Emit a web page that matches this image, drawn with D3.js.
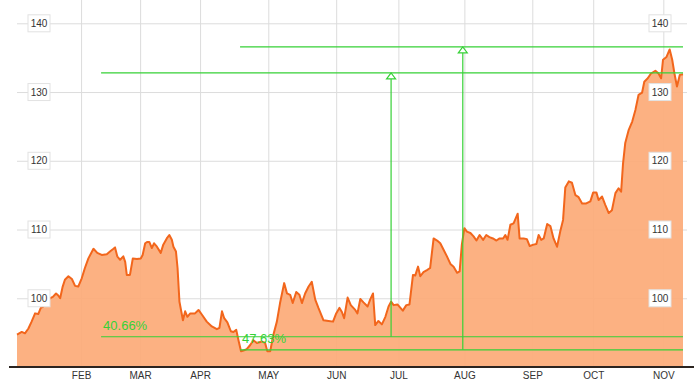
<!DOCTYPE html>
<html>
<head>
<meta charset="utf-8">
<script src="https://cdn.jsdelivr.net/npm/d3@7"></script>
<style>
  body { margin: 0; background: #fff; }
  svg { display: block; font-family: Arial, "Liberation Sans", sans-serif; }
  .grid line { stroke: #dcdcdc; stroke-width: 1; }
  .grid path { display: none; }
  .x.axis path { display: none; }
  .x.axis text { font-size: 10px; fill: #333; }
  .ylab rect { fill: #fff; stroke: #e2e2e2; }
  .ylab text { font-size: 10px; fill: #333; }
</style>
</head>
<body>
<div id="chart"></div>
<script>
// trading sessions (x) and closing prices
var sessions = [0,1.5,2.5,3.6,4.6,5.7,6.7,7.5,8.3,9.4,10.4,11.3,12.3,13.0,13.6,14.4,15.1,16.2,17.3,18.3,19.3,20.4,21.4,22.5,24.1,25.3,26.7,28.3,29.3,30.4,30.9,31.6,32.5,33.5,34.1,34.6,35.6,36.5,37.8,39.0,
  39.6,40.4,41.1,41.7,42.5,43.2,44.1,45.3,46.1,47.2,48.0,48.8,49.3,50.1,50.6,51.2,52.3,53.0,53.7,54.6,56.1,57.2,58.3,59.8,61.4,63.0,63.8,64.6,65.3,66.3,67.4,68.2,69.1,69.8,70.6,71.4,72.4,73.5,74.5,75.6,77.2,78.2,78.9,79.8,80.8,81.9,82.9,84.2,85.1,86.1,
  86.9,88.0,89.0,89.8,90.8,91.9,92.9,94.0,95.0,96.6,98.2,99.6,100.6,101.6,102.4,103.1,104.2,105.2,106.6,107.3,108.2,109.2,110.5,111.3,112.2,112.9,113.9,115.0,116.1,117.1,117.9,118.7,119.9,121.6,122.7,123.7,124.8,125.5,126.4,127.1,128.1,129.2,130.2,
  131.3,132.4,133.4,134.4,135.5,136.6,137.6,138.7,139.5,140.2,141.0,141.8,142.9,143.9,144.8,145.8,146.9,147.9,148.9,150.0,151.1,152.1,153.2,153.9,154.6,155.5,156.5,157.8,158.4,159.7,160.7,161.6,162.8,163.7,164.4,165.2,166.0,167.1,168.1,169.1,
  170.2,171.2,172.1,172.8,173.9,174.9,176.0,177.0,178.1,179.4,180.7,181.6,182.6,183.3,184.4,185.4,186.5,187.5,188.6,189.6,190.4,191.0,191.7,192.8,193.9,194.9,195.9,197.0,197.7,198.8,199.8,201.2,202.2,203.0,203.6,204.7,205.7,206.5,207.2,208.0,208.9,209.9];

var prices = [94.7,95.1,94.9,95.6,96.6,97.8,97.7,98.6,98.8,99.5,100.0,100.2,100.7,100.4,100.0,101.7,102.7,103.2,102.8,101.8,101.7,102.9,104.4,105.8,107.2,106.6,106.3,106.4,106.8,107.2,107.4,106.1,105.6,106.1,105.3,103.4,103.4,105.8,105.7,105.8,
  106.3,108.0,108.2,108.2,107.3,108.0,107.5,106.6,107.8,108.7,109.2,108.5,107.5,106.8,104.4,99.5,96.8,98.1,97.3,97.8,97.8,98.3,97.6,96.6,95.9,95.5,95.7,98.1,97.1,96.5,95.2,95.1,95.4,93.9,92.3,92.4,92.6,93.2,93.9,93.5,93.7,93.5,92.3,92.3,94.7,96.6,99.3,102.2,100.7,100.5,
  99.3,100.9,100.5,99.3,100.7,101.7,102.4,99.8,98.6,96.8,96.7,96.6,97.8,98.6,98.0,97.1,100.1,99.0,98.3,97.8,99.9,99.4,98.8,99.8,100.7,96.1,96.7,96.2,97.3,98.8,99.5,99.0,99.1,98.2,99.0,99.1,103.4,103.3,104.6,103.2,103.8,104.1,104.4,
  108.7,108.4,108.0,107.1,106.1,105.0,104.6,103.7,103.9,107.8,110.2,109.7,109.5,109.0,108.4,109.2,108.5,109.2,108.9,108.7,108.4,108.7,108.7,109.2,108.5,110.7,110.9,112.3,108.7,108.7,108.6,107.6,107.8,107.9,109.2,108.5,108.7,110.8,110.5,108.7,
  107.5,109.7,111.4,116.1,117.0,116.8,115.0,114.7,113.8,113.8,114.1,115.4,115.4,114.3,114.8,113.6,112.4,112.8,115.3,116.0,115.5,119.6,122.6,124.5,125.7,127.4,129.6,129.9,131.5,132.0,132.7,133.1,132.7,132.0,134.7,135.1,136.2,134.7,132.7,130.8,132.5,132.6];

var monthLabels = ["FEB", "MAR", "APR", "MAY", "JUN", "JUL", "AUG", "SEP", "OCT", "NOV"];
var monthSessions = [20.2, 38.8, 57.7, 79.2, 100.6, 120.2, 141.0, 162.4, 181.6, 203.7];

var priceTicks = [100, 110, 120, 130, 140];

// percentage-change measurements: start session, low, session of the arrow, change in %
var measureStart = [26.5, 70.3];
var measureLow = [94.4, 92.5];
var measureAt = [117.9, 140.5];
var measurePct = [40.66, 47.63];

function drawChart() {
  var width = 694, height = 386;
  var baseY = 367;

  var data = sessions.map(function(s, i) { return {session: s, price: prices[i]}; });

  var xScale = d3.scaleLinear()
    .domain(d3.extent(sessions))
    .range([17, 683]);

  var yScale = d3.scaleLinear()
    .domain([90, 140])
    .range([baseY, 23.3]);

  var svg = d3.select("#chart").append("svg")
    .attr("width", width)
    .attr("height", height);

  // vertical grid at month starts
  svg.append("g")
    .attr("class", "grid")
    .attr("transform", "translate(0," + baseY + ")")
    .call(d3.axisBottom(xScale).tickValues(monthSessions).tickSize(-baseY).tickFormat(""));

  // horizontal grid
  svg.append("g")
    .attr("class", "grid")
    .attr("transform", "translate(17,0)")
    .call(d3.axisLeft(yScale).tickValues(priceTicks).tickSize(-670).tickFormat(""));

  var area = d3.area()
    .x(function(d) { return xScale(d.session); })
    .y0(baseY)
    .y1(function(d) { return yScale(d.price); });

  var line = d3.line()
    .x(function(d) { return xScale(d.session); })
    .y(function(d) { return yScale(d.price); });

  svg.append("path")
    .datum(data)
    .attr("d", area)
    .style("fill", "#fcab79")
    .style("fill-opacity", 0.93);

  svg.append("path")
    .datum(data)
    .attr("d", line)
    .style("fill", "none")
    .style("stroke", "#f2661c")
    .style("stroke-width", 2)
    .style("stroke-linejoin", "round");

  // y labels, both sides
  [39, 660].forEach(function(cx) {
    var lab = svg.selectAll(null)
      .data(priceTicks)
      .enter().append("g")
      .attr("class", "ylab")
      .attr("transform", function(d) { return "translate(" + cx + "," + yScale(d) + ")"; });
    lab.append("rect")
      .attr("x", -11).attr("y", -8.5)
      .attr("width", 22).attr("height", 17);
    lab.append("text")
      .attr("text-anchor", "middle")
      .attr("dy", "0.35em")
      .text(function(d) { return d; });
  });

  // measurements
  var green = "#36d136";
  var xEnd = xScale.range()[1];
  measureStart.forEach(function(s, i) {
    var low = measureLow[i];
    var high = low * (1 + measurePct[i] / 100);
    var x0 = xScale(s), xa = xScale(measureAt[i]);
    var yl = yScale(low), yh = yScale(high);
    var g = svg.append("g").style("stroke", green).style("stroke-width", 1.2);
    g.append("line").attr("x1", x0).attr("x2", xEnd).attr("y1", yl).attr("y2", yl);
    g.append("line").attr("x1", x0).attr("x2", xEnd).attr("y1", yh).attr("y2", yh);
    g.append("line").attr("x1", xa).attr("x2", xa).attr("y1", yl).attr("y2", yh + 5);
    g.append("path")
      .attr("d", "M" + xa + "," + yh + "L" + (xa - 4.5) + "," + (yh + 6) + "L" + (xa + 4.5) + "," + (yh + 6) + "Z")
      .style("fill", "#fff");
    svg.append("text")
      .attr("x", x0 + 2)
      .attr("y", yl - 7)
      .style("font-size", "13px")
      .style("fill", green)
      .text(measurePct[i].toFixed(2) + "%");
  });

  // bottom axis
  svg.append("line")
    .attr("x1", 9).attr("x2", width)
    .attr("y1", baseY).attr("y2", baseY)
    .style("stroke", "#2b2420")
    .style("stroke-width", 1.8);

  svg.append("g")
    .attr("class", "x axis")
    .attr("transform", "translate(0," + baseY + ")")
    .call(d3.axisBottom(xScale).tickValues(monthSessions).tickSize(0).tickPadding(5)
      .tickFormat(function(d, i) { return monthLabels[i]; }));
}

drawChart();
</script>
</body>
</html>
